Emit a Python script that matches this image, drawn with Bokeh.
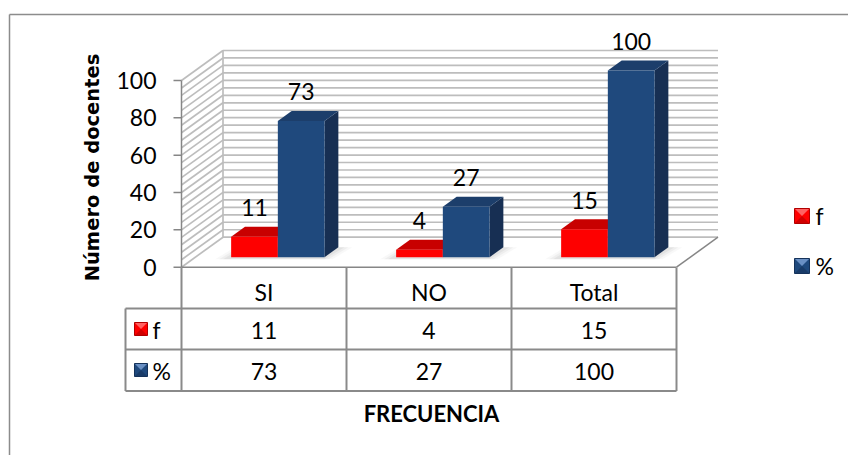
from bokeh.plotting import figure
from bokeh.models import Range1d
from bokeh.embed import file_html
from bokeh.resources import INLINE
from bokeh.core.properties import value

# ---- data -------------------------------------------------------------
categories = ["SI", "NO", "Total"]
series_names = ["f", "%"]
f_values = [11, 4, 15]
pct_values = [73, 27, 100]
y_ticks = [0, 20, 40, 60, 80, 100]
y_title = "Número de docentes"
x_title = "FRECUENCIA"

# ---- canvas geometry --------------------------------------------------
W, H = 848, 455
X0_PX = 181.0      # front-left corner of the floor
CAT_PX = 165.0     # width of one category column
Y0_PX = 266.7      # value 0 on the front plane
UNIT_PX = 1.867    # pixels per value unit
FONT = value("Lato")
TXT = "23px"
GRID_STEP = 4

def xd(px):
    """horizontal canvas pixel -> x data units"""
    return (px - X0_PX) / CAT_PX

def yd(py):
    """vertical canvas pixel -> value units"""
    return (Y0_PX - py) / UNIT_PX

def dxu(px):
    return px / CAT_PX

def dyu(px):
    return px / UNIT_PX

n = len(categories)
DX, DV = dxu(41.5), dyu(30.0)          # depth of the floor / walls
FX, FV = DX / 3.0, DV / 3.0            # front face of the columns
BX, BV = 2 * DX / 3.0, 2 * DV / 3.0    # back face of the columns
BAR_W = 0.283
VMAX = max(y_ticks)

p = figure(width=W, height=H, x_range=Range1d(xd(0), xd(W)),
           y_range=Range1d(yd(H), yd(0)), x_axis_type=None, y_axis_type=None,
           toolbar_location=None, output_backend="svg", min_border=0,
           outline_line_color=None, background_fill_color="white",
           border_fill_color="white")
p.grid.visible = False

AXIS_C = "#868686"
GRID_C = "#bdbdbd"
TABLE_C = "#8a8a8a"

# ---- outer chart border (runs past the page edges) -------------------
p.segment(x0=[xd(9), xd(9)], y0=[yd(14), yd(14)], x1=[xd(W + 10), xd(9)],
          y1=[yd(14), yd(H + 10)], line_color="#8c8c8c", line_width=1.5)

# ---- walls and floor --------------------------------------------------
levels = list(range(0, VMAX + 1, GRID_STEP))
p.segment(x0=[DX] * len(levels), y0=[v + DV for v in levels],
          x1=[n + DX] * len(levels), y1=[v + DV for v in levels],
          line_color=GRID_C, line_width=1.7)
p.segment(x0=[0] * len(levels), y0=levels, x1=[DX] * len(levels),
          y1=[v + DV for v in levels], line_color=GRID_C, line_width=1.7)
p.segment(x0=[DX], y0=[DV], x1=[DX], y1=[VMAX + DV], line_color=GRID_C, line_width=1.7)
# floor edges
p.segment(x0=[0, n], y0=[0, 0], x1=[n, n + DX], y1=[0, DV],
          line_color=AXIS_C, line_width=1.5)

# ---- value axis -------------------------------------------------------
p.segment(x0=[0], y0=[0], x1=[0], y1=[VMAX], line_color=AXIS_C, line_width=1.5)
p.segment(x0=[dxu(-8)] * len(y_ticks), y0=y_ticks, x1=[0] * len(y_ticks), y1=y_ticks,
          line_color=AXIS_C, line_width=1.5)
p.text(x=[xd(156)] * len(y_ticks), y=y_ticks, text=[str(t) for t in y_ticks],
       text_font=FONT, text_font_size=TXT, text_color="black",
       text_align="right", text_baseline="middle")

# ---- soft shadows under the column groups -----------------------------
for grow, alpha in ((10, 0.06), (6, 0.08), (2, 0.10)):
    xs, ys = [], []
    for i in range(n):
        left = i + 0.5 - BAR_W - dxu(grow)
        right = i + 0.5 + BAR_W + dxu(grow)
        xs.append([left + FX - dxu(6), right + FX - dxu(2), right + BX + dxu(4), left + BX])
        ys.append([FV - dyu(2), FV - dyu(2), BV, BV])
    p.patches(xs=xs, ys=ys, fill_color="#808080", fill_alpha=alpha, line_color=None)

# ---- 3D columns -------------------------------------------------------
styles = [
    dict(front="#fe0000", top="#c80000", side="#a00000"),
    dict(front="#1f497d", top="#1c3e6b", side="#172f53"),
]
for s, vals in enumerate([f_values, pct_values]):
    fronts, tops, sides = ([], []), ([], []), ([], [])
    for i, v in enumerate(vals):
        x0 = i + 0.5 - BAR_W if s == 0 else i + 0.5
        x1 = x0 + BAR_W
        sides[0].append([x1 + FX, x1 + BX, x1 + BX, x1 + FX])
        sides[1].append([FV, BV, v + BV, v + FV])
        tops[0].append([x0 + FX, x1 + FX, x1 + BX, x0 + BX])
        tops[1].append([v + FV, v + FV, v + BV, v + BV])
        fronts[0].append([x0 + FX, x1 + FX, x1 + FX, x0 + FX])
        fronts[1].append([FV, FV, v + FV, v + FV])
    st = styles[s]
    p.patches(xs=sides[0], ys=sides[1], fill_color=st["side"], line_color=None)
    p.patches(xs=tops[0], ys=tops[1], fill_color=st["top"], line_color=None)
    p.patches(xs=fronts[0], ys=fronts[1], fill_color=st["front"], line_color=None)

    # data labels above each column
    lx = [(i + 0.5 - BAR_W / 2 if s == 0 else i + 0.5 + BAR_W / 2) + FX for i in range(n)]
    ly = [v + FV + dyu(29) for v in vals]
    p.text(x=lx, y=ly, text=[str(v) for v in vals], text_font=FONT,
           text_font_size=TXT, text_color="black", text_align="center",
           text_baseline="middle")

# ---- data table -------------------------------------------------------
ROWS_PX = [267.0, 308.0, 349.0, 390.5]
KEY_COL_PX = 125.0
row_v = [yd(r) for r in ROWS_PX]
hx0 = [xd(KEY_COL_PX)] * 3
p.segment(x0=hx0, y0=row_v[1:], x1=[n] * 3, y1=row_v[1:], line_color=TABLE_C, line_width=2)
vx = [xd(KEY_COL_PX)] + list(range(n + 1))
vy0 = [row_v[1]] + [row_v[0]] * (n + 1)
p.segment(x0=vx, y0=vy0, x1=vx, y1=[row_v[3]] * len(vx), line_color=TABLE_C, line_width=2)

cx = [i + 0.5 for i in range(n)]
p.text(x=cx, y=[yd(291)] * n, text=categories, text_font=FONT, text_font_size=TXT,
       text_color="black", text_align="center", text_baseline="middle")
p.text(x=cx, y=[yd(330)] * n, text=[str(v) for v in f_values], text_font=FONT,
       text_font_size=TXT, text_color="black", text_align="center", text_baseline="middle")
p.text(x=cx, y=[yd(371)] * n, text=[str(v) for v in pct_values], text_font=FONT,
       text_font_size=TXT, text_color="black", text_align="center", text_baseline="middle")

# ---- legend keys (table and right-hand legend) -------------------------
key_colors = [("#ff0000", "#ff7a7a", "#b00000"), ("#1f497d", "#7da2d6", "#15325a")]

def draw_key(px_left, py_top, size, colors):
    base, light, dark = colors
    l, r = xd(px_left), xd(px_left + size)
    t, b = yd(py_top), yd(py_top + size)
    mx, my = (l + r) / 2, (t + b) / 2
    p.patches(xs=[[l, r, r, l], [l, r, mx], [l, r, mx]],
              ys=[[b, b, t, t], [t, t, my], [b, b, my]],
              fill_color=[base, light, dark], fill_alpha=[1, 0.8, 0.6],
              line_color=None)
    p.patches(xs=[[l, r, r, l]], ys=[[b, b, t, t]], fill_color=None,
              line_color=dark, line_width=1)

table_key_y = [322, 363]
legend_key_y = [208, 258]
for s, name in enumerate(series_names):
    draw_key(134, table_key_y[s], 13, key_colors[s])
    draw_key(794, legend_key_y[s], 15, key_colors[s])
p.text(x=[xd(152)] * 2, y=[yd(y + 7) for y in table_key_y], text=series_names,
       text_font=FONT, text_font_size=TXT, text_color="black",
       text_align="left", text_baseline="middle")
p.text(x=[xd(815)] * 2, y=[yd(y + 7) for y in legend_key_y], text=series_names,
       text_font=FONT, text_font_size=TXT, text_color="black",
       text_align="left", text_baseline="middle")

# ---- axis titles ------------------------------------------------------
p.text(x=[xd(431)], y=[yd(413)], text=[x_title], text_font=FONT, text_font_size="22px",
       text_font_style="bold", text_color="black", text_align="center",
       text_baseline="middle")
p.text(x=[xd(92)], y=[yd(167)], text=[y_title], angle=1.5707963,
       text_font=value("DejaVu Sans"), text_font_size="19.5px", text_font_style="bold",
       text_color="black", text_align="center", text_baseline="middle")

open("out.html", "w").write(file_html(p, INLINE))
